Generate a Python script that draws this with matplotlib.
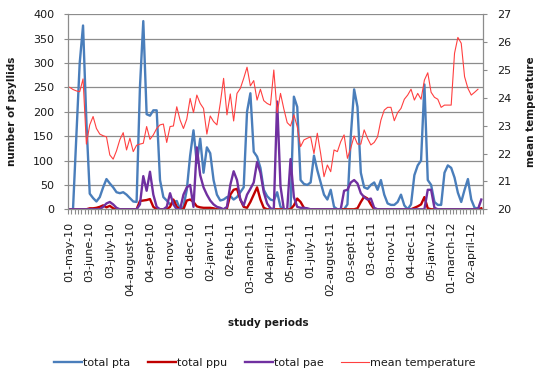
import numpy as np
import matplotlib
matplotlib.use("Agg")
import matplotlib.pyplot as plt
from matplotlib.ticker import MultipleLocator

# sampling dates shown on the axis (one label every 6 samples)
tick_labels = [
    "01-may-10", "03-june-10", "03-july-10", "04-august-10", "04-sept-10",
    "01-nov-10", "01-dec-10", "02-janv-11", "02-feb-11", "03-march-11",
    "04-april-11", "05-may-11", "01-july-11", "02-august-11", "03-sept-11",
    "03-oct-11", "03-nov-11", "04-dec-11", "05-janv-12", "01-march-12",
    "02-april-12",
]
label_every = 6

total_pta = [
    0, 0, 150, 300, 377, 180, 32, 23, 16, 25,
    45, 62, 53, 45, 35, 33, 35, 30, 23, 16,
    15, 250, 386, 195, 192, 203, 203, 60, 25, 18,
    10, 15, 17, 0, 5, 40, 110, 162, 95, 145,
    75, 127, 115, 60, 30, 18, 20, 25, 27, 20,
    25, 35, 45, 200, 238, 118, 108, 85, 40, 27,
    20, 18, 35, 5, 0, 0, 0, 231, 210, 60,
    52, 50, 55, 110, 80, 55, 30, 20, 40, 5,
    0, 0, 0, 10, 150, 246, 210, 75, 45, 42,
    50, 55, 40, 60, 30, 12, 9, 9, 15, 30,
    8, 0, 10, 70, 90, 100, 256, 60, 50, 15,
    9, 9, 75, 90, 85, 65, 34, 15, 40, 62,
    20, 3, 2, 0,
]

total_ppu = [
    0, 0, 0, 0, 0, 0, 2, 2, 3, 5,
    8, 4, 7, 2, 0, 0, 0, 0, 0, 0,
    0, 17, 18, 19, 21, 5, 0, 0, 0, 0,
    5, 20, 5, 0, 0, 18, 20, 15, 6, 4,
    3, 3, 3, 2, 0, 0, 0, 2, 30, 40,
    42, 20, 5, 3, 15, 30, 45, 20, 3, 0,
    0, 0, 0, 0, 0, 0, 0, 8, 22, 15,
    3, 0, 0, 0, 0, 0, 0, 0, 0, 0,
    0, 0, 0, 0, 0, 0, 2, 15, 26, 22,
    10, 0, 0, 0, 0, 0, 0, 0, 0, 0,
    0, 0, 0, 3, 6, 10, 25, 2, 0, 0,
    0, 0, 0, 0, 0, 0, 0, 0, 0, 0,
    0, 0, 0, 2,
]

total_pae = [
    0, 0, 0, 0, 0, 0, 0, 0, 0, 0,
    5, 12, 15, 10, 3, 0, 0, 0, 0, 0,
    0, 10, 68, 38, 77, 30, 5, 0, 0, 5,
    33, 10, 0, 0, 30, 45, 50, 5, 127, 70,
    45, 30, 18, 10, 5, 3, 0, 5, 50, 78,
    60, 20, 8, 30, 42, 55, 97, 75, 35, 12,
    2, 0, 221, 47, 0, 0, 103, 25, 5, 3,
    3, 2, 0, 0, 0, 0, 0, 0, 0, 0,
    0, 0, 38, 40, 55, 60, 53, 33, 25, 20,
    22, 3, 0, 0, 0, 0, 0, 0, 0, 0,
    0, 0, 0, 0, 0, 0, 0, 40, 40, 3,
    0, 0, 0, 0, 0, 0, 0, 0, 0, 0,
    0, 0, 0, 20,
]

mean_temperature = [
    24.38, 24.3, 24.25, 24.22, 24.68, 22.34, 23.03, 23.33, 22.9, 22.7,
    22.64, 22.6, 21.95, 21.8, 22.1, 22.5, 22.75, 22.13, 22.55, 22.07,
    22.3, 22.34, 22.37, 22.97, 22.51, 22.67, 22.9, 23.03, 23.06, 22.4,
    22.97, 22.99, 23.68, 23.2, 22.9, 23.24, 23.98, 23.47, 24.1, 23.8,
    23.62, 22.7, 23.35, 23.15, 23.03, 23.8, 24.7, 23.39, 24.14, 23.17,
    24.16, 24.34, 24.7, 25.1, 24.43, 24.62, 23.92, 24.31, 23.9, 23.8,
    23.74, 25.0, 23.47, 24.16, 23.6, 23.11, 22.99, 23.39, 22.97, 22.25,
    22.49, 22.55, 22.6, 22.0, 22.73, 22.0, 21.17, 21.59, 21.35, 22.13,
    22.07, 22.43, 22.67, 21.83, 22.2, 22.63, 22.34, 22.34, 22.85, 22.55,
    22.31, 22.4, 22.6, 23.2, 23.56, 23.66, 23.66, 23.18, 23.47, 23.62,
    23.95, 24.1, 24.31, 23.92, 24.16, 23.95, 24.64, 24.9, 24.2, 24.02,
    23.95, 23.66, 23.74, 23.74, 23.74, 25.6, 26.17, 25.96, 24.76, 24.34,
    24.1, 24.2, 24.31, np.nan,
]

GRID = "#8c8c8c"
TEXT = "#1a1a1a"

plt.rcParams["font.family"] = ["DejaVu Sans"]

x = np.arange(len(total_pta))

fig = plt.figure(figsize=(5.37, 3.72), dpi=100)
ax = fig.add_axes([0.1266, 0.4374, 0.7728, 0.5242])

l1, = ax.plot(x, total_pta, color="#4a7ebb", lw=1.7, label="total pta")
l2, = ax.plot(x, total_ppu, color="#c00000", lw=1.7, label="total ppu")
l3, = ax.plot(x, total_pae, color="#7030a0", lw=1.7, label="total pae")

ax.set_xlim(-0.5, len(x) - 0.5)
ax.set_ylim(0, 400)
ax.yaxis.set_major_locator(MultipleLocator(50))
ax.yaxis.grid(True, color=GRID, lw=0.9)
ax.set_axisbelow(True)

# category labels every 6 samples, small ticks between every category
ax.set_xticks(x[::label_every])
ax.set_xticklabels(tick_labels, rotation=90, fontsize=8, color=TEXT)
ax.set_xticks(np.arange(len(x) + 1) - 0.5, minor=True)
ax.tick_params(axis="x", which="major", length=0, pad=9)
ax.tick_params(axis="x", which="minor", length=3.5, color=GRID, width=0.8)
ax.tick_params(axis="y", length=3, color=GRID, width=0.8, pad=7,
               labelsize=8, labelcolor=TEXT)

for side in ("top", "right"):
    ax.spines[side].set_visible(False)
for side in ("left", "bottom"):
    ax.spines[side].set_color(GRID)
    ax.spines[side].set_linewidth(0.9)

ax.set_ylabel("number of psyllids", fontsize=7.5, fontweight="bold", color=TEXT)
ax.yaxis.set_label_coords(-0.124, 0.5)

# temperature on the secondary axis
ax2 = ax.twinx()
l4, = ax2.plot(x, mean_temperature, color="#ff4040", lw=0.8,
               label="mean temperature")
ax2.set_ylim(20, 27)
ax2.yaxis.set_major_locator(MultipleLocator(1))
ax2.tick_params(axis="y", length=3, color=GRID, width=0.8, pad=7,
                labelsize=8, labelcolor=TEXT)
for side in ("top", "left", "bottom"):
    ax2.spines[side].set_visible(False)
ax2.spines["right"].set_color(GRID)
ax2.spines["right"].set_linewidth(0.9)
ax2.set_ylabel("mean temperature", fontsize=7.5, fontweight="bold", color=TEXT)
ax2.yaxis.set_label_coords(1.104, 0.5)

fig.text(268 / 537, 1 - 323 / 372, "study periods", fontsize=7.5,
         fontweight="bold", color=TEXT, ha="center", va="center")

fig.legend(handles=[l1, l2, l3, l4], loc="center",
           bbox_to_anchor=(265 / 537, 1 - 363 / 372), ncol=4, frameon=False,
           fontsize=8, handlelength=2.5, handletextpad=0.1,
           columnspacing=1.6, labelcolor=TEXT)

fig.savefig("out.png", dpi=100)
